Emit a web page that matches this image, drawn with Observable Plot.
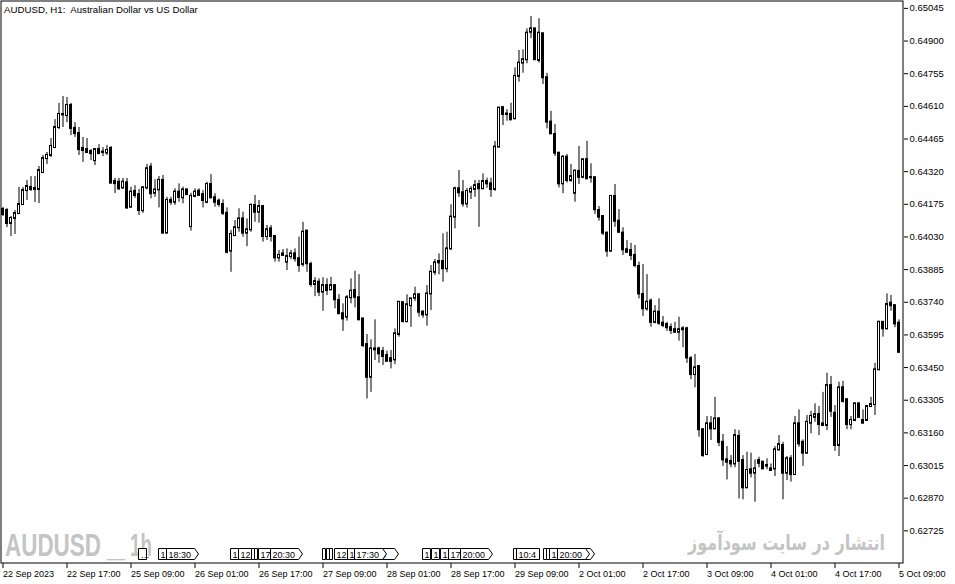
<!DOCTYPE html>
<html><head><meta charset="utf-8">
<script src="https://cdn.jsdelivr.net/npm/d3@7"></script>
<script src="https://cdn.jsdelivr.net/npm/@observablehq/plot@0.6"></script>
<style>
body{margin:0;background:#fff}
#wrap{position:relative;width:955px;height:584px;overflow:hidden}
</style>
</head><body><div id="wrap"></div>
<script>
const titleText = "AUDUSD, H1:  Australian Dollar vs US Dollar";
const open = [
0.64152,0.64147,0.64090,0.64112,0.64134,0.64174,0.64236,0.64250,0.64245,0.64241,0.64316,0.64378,0.64392,0.64427,0.64516,
0.64574,0.64569,0.64614,0.64512,0.64489,0.64423,0.64418,0.64409,0.64369,0.64418,0.64405,0.64403,0.64423,0.64276,0.64273,
0.64248,0.64270,0.64162,0.64232,0.64218,0.64147,0.64248,0.64340,0.64224,0.64239,0.64281,0.64047,0.64192,0.64184,0.64229,
0.64204,0.64239,0.64076,0.64210,0.64233,0.64218,0.64184,0.64263,0.64204,0.64189,0.64174,0.64135,0.63967,0.64036,0.64071,
0.64110,0.64047,0.64062,0.64170,0.64140,0.64165,0.64032,0.64066,0.64032,0.63937,0.63948,0.63918,0.63943,0.63955,0.63933,
0.63908,0.64056,0.63908,0.63819,0.63829,0.63785,0.63814,0.63795,0.63814,0.63748,0.63689,0.63674,0.63760,0.63792,0.63760,
0.63666,0.63552,0.63407,0.63529,0.63533,0.63521,0.63503,0.63489,0.63484,0.63597,0.63738,0.63654,0.63725,0.63758,0.63773,
0.63696,0.63684,0.63777,0.63873,0.63921,0.63921,0.63889,0.63977,0.64118,0.64244,0.64226,0.64177,0.64229,0.64241,0.64262,
0.64244,0.64276,0.64266,0.64241,0.64429,0.64604,0.64574,0.64574,0.64555,0.64743,0.64802,0.64817,0.64939,0.64954,0.64814,
0.64932,0.64737,0.64540,0.64485,0.64402,0.64266,0.64384,0.64281,0.64224,0.64321,0.64295,0.64373,0.64294,0.64293,0.64147,
0.64121,0.64047,0.63967,0.64210,0.64100,0.64047,0.63973,0.63970,0.63948,0.63899,0.63774,0.63711,0.63745,0.63651,0.63696,
0.63647,0.63641,0.63627,0.63618,0.63607,0.63622,0.63622,0.63489,0.63419,0.63455,0.63174,0.63064,0.63200,0.63178,0.63222,
0.63118,0.63040,0.63033,0.63022,0.63144,0.63037,0.62916,0.62996,0.62981,0.63037,0.63030,0.63015,0.63000,0.63000,0.63085,
0.63104,0.62981,0.63045,0.62975,0.63200,0.63118,0.63070,0.63203,0.63229,0.63241,0.63200,0.63193,0.63370,0.63247,0.63104,
0.63360,0.63307,0.63197,0.63215,0.63289,0.63215,0.63215,0.63277,0.63286,0.63440,0.63651,0.63622,0.63736,0.63725,0.63647];
const high = [
0.64161,0.64156,0.64121,0.64147,0.64250,0.64250,0.64281,0.64298,0.64298,0.64343,0.64392,0.64405,0.64467,0.64551,0.64623,
0.64654,0.64649,0.64623,0.64538,0.64516,0.64472,0.64467,0.64418,0.64423,0.64440,0.64427,0.64436,0.64432,0.64290,0.64290,
0.64290,0.64290,0.64251,0.64258,0.64241,0.64254,0.64352,0.64357,0.64284,0.64298,0.64303,0.64206,0.64206,0.64244,0.64266,
0.64251,0.64241,0.64224,0.64244,0.64244,0.64236,0.64273,0.64307,0.64222,0.64199,0.64195,0.64159,0.64059,0.64103,0.64155,
0.64140,0.64110,0.64177,0.64214,0.64192,0.64170,0.64081,0.64081,0.64032,0.63970,0.63974,0.63977,0.63970,0.63977,0.64029,
0.64095,0.64059,0.63918,0.63849,0.63844,0.63849,0.63844,0.63851,0.63814,0.63774,0.63733,0.63770,0.63844,0.63878,0.63863,
0.63666,0.63597,0.63573,0.63662,0.63540,0.63540,0.63523,0.63526,0.63622,0.63740,0.63738,0.63773,0.63755,0.63807,0.63777,
0.63703,0.63814,0.63903,0.63930,0.63955,0.64044,0.64051,0.64173,0.64251,0.64325,0.64281,0.64246,0.64254,0.64281,0.64281,
0.64310,0.64291,0.64291,0.64454,0.64606,0.64609,0.64595,0.64624,0.64781,0.64858,0.64861,0.64954,0.65009,0.64954,0.64999,
0.64935,0.64757,0.64588,0.64529,0.64402,0.64392,0.64396,0.64352,0.64328,0.64432,0.64373,0.64455,0.64355,0.64295,0.64165,
0.64125,0.64051,0.64214,0.64263,0.64151,0.64071,0.64014,0.64002,0.63992,0.63918,0.63908,0.63863,0.63755,0.63725,0.63755,
0.63677,0.63651,0.63644,0.63651,0.63674,0.63632,0.63629,0.63499,0.63508,0.63459,0.63178,0.63233,0.63233,0.63318,0.63227,
0.63153,0.63099,0.63059,0.63174,0.63170,0.63059,0.63074,0.63070,0.63040,0.63052,0.63030,0.63045,0.63022,0.63099,0.63148,
0.63118,0.63055,0.63059,0.63233,0.63262,0.63129,0.63237,0.63256,0.63289,0.63277,0.63340,0.63425,0.63410,0.63281,0.63385,
0.63389,0.63311,0.63233,0.63292,0.63289,0.63262,0.63281,0.63318,0.63469,0.63656,0.63651,0.63777,0.63770,0.63725,0.63662];
const low = [
0.64121,0.64072,0.64032,0.64041,0.64130,0.64170,0.64192,0.64232,0.64183,0.64178,0.64312,0.64352,0.64383,0.64423,0.64507,
0.64516,0.64538,0.64480,0.64472,0.64392,0.64361,0.64400,0.64369,0.64347,0.64396,0.64387,0.64392,0.64267,0.64223,0.64236,
0.64241,0.64152,0.64159,0.64201,0.64125,0.64135,0.64239,0.64199,0.64206,0.64159,0.64044,0.64044,0.64170,0.64170,0.64184,
0.64177,0.64218,0.64056,0.64204,0.64210,0.64159,0.64177,0.64199,0.64162,0.64162,0.64125,0.63955,0.63873,0.64032,0.64051,
0.64029,0.63987,0.64051,0.64095,0.64091,0.64007,0.64014,0.64007,0.63918,0.63918,0.63943,0.63881,0.63929,0.63918,0.63873,
0.63896,0.63873,0.63807,0.63765,0.63765,0.63700,0.63770,0.63792,0.63711,0.63686,0.63611,0.63656,0.63733,0.63715,0.63659,
0.63538,0.63311,0.63340,0.63481,0.63469,0.63459,0.63478,0.63444,0.63463,0.63585,0.63649,0.63649,0.63629,0.63743,0.63674,
0.63669,0.63634,0.63703,0.63859,0.63862,0.63829,0.63871,0.63970,0.64066,0.64206,0.64162,0.64158,0.64196,0.64206,0.64073,
0.64241,0.64246,0.64206,0.64232,0.64429,0.64525,0.64544,0.64550,0.64550,0.64717,0.64757,0.64799,0.64910,0.64817,0.64802,
0.64707,0.64510,0.64485,0.64387,0.64248,0.64222,0.64269,0.64273,0.64184,0.64263,0.64288,0.64288,0.64269,0.64130,0.64100,
0.64036,0.63940,0.63962,0.64073,0.64047,0.63948,0.63958,0.63925,0.63893,0.63755,0.63677,0.63700,0.63629,0.63644,0.63637,
0.63627,0.63611,0.63597,0.63602,0.63567,0.63538,0.63469,0.63396,0.63360,0.63141,0.63052,0.63059,0.63126,0.63174,0.63099,
0.63011,0.62951,0.63005,0.63005,0.62867,0.62863,0.62916,0.62960,0.62852,0.63005,0.63000,0.62996,0.62990,0.62966,0.63078,
0.62863,0.62948,0.62941,0.62971,0.63096,0.63011,0.63064,0.63156,0.63207,0.63148,0.63188,0.63170,0.63229,0.63078,0.63055,
0.63292,0.63174,0.63174,0.63212,0.63229,0.63203,0.63212,0.63274,0.63237,0.63437,0.63585,0.63618,0.63700,0.63627,0.63514];
const close = [
0.64130,0.64090,0.64112,0.64134,0.64174,0.64236,0.64254,0.64241,0.64241,0.64325,0.64378,0.64392,0.64432,0.64516,0.64574,
0.64572,0.64614,0.64512,0.64489,0.64418,0.64414,0.64405,0.64400,0.64418,0.64400,0.64407,0.64414,0.64269,0.64267,0.64244,
0.64273,0.64159,0.64229,0.64214,0.64147,0.64248,0.64333,0.64222,0.64239,0.64281,0.64047,0.64192,0.64184,0.64229,0.64206,
0.64239,0.64218,0.64210,0.64229,0.64214,0.64192,0.64263,0.64204,0.64184,0.64174,0.64135,0.63962,0.64041,0.64071,0.64110,
0.64047,0.64062,0.64170,0.64140,0.64165,0.64032,0.64062,0.64032,0.63937,0.63948,0.63955,0.63943,0.63955,0.63933,0.63903,
0.64051,0.63911,0.63819,0.63832,0.63785,0.63814,0.63792,0.63814,0.63751,0.63689,0.63666,0.63760,0.63789,0.63762,0.63662,
0.63548,0.63407,0.63533,0.63533,0.63511,0.63499,0.63478,0.63478,0.63600,0.63740,0.63654,0.63729,0.63755,0.63773,0.63696,
0.63684,0.63777,0.63873,0.63915,0.63915,0.63889,0.63977,0.64118,0.64244,0.64226,0.64177,0.64232,0.64241,0.64258,0.64244,
0.64276,0.64266,0.64241,0.64429,0.64602,0.64574,0.64576,0.64550,0.64743,0.64802,0.64817,0.64935,0.64954,0.64817,0.64935,
0.64737,0.64540,0.64488,0.64402,0.64266,0.64384,0.64281,0.64298,0.64322,0.64295,0.64373,0.64288,0.64293,0.64151,0.64118,
0.64047,0.63967,0.64210,0.64100,0.64051,0.63973,0.63962,0.63948,0.63903,0.63777,0.63711,0.63740,0.63651,0.63696,0.63647,
0.63637,0.63627,0.63615,0.63607,0.63618,0.63618,0.63493,0.63419,0.63449,0.63174,0.63059,0.63200,0.63178,0.63222,0.63118,
0.63040,0.63030,0.63022,0.63148,0.63034,0.62916,0.62993,0.62981,0.63000,0.63025,0.63000,0.63012,0.62993,0.63085,0.63108,
0.62981,0.63045,0.62975,0.63200,0.63111,0.63070,0.63207,0.63233,0.63241,0.63197,0.63193,0.63370,0.63256,0.63104,0.63360,
0.63300,0.63197,0.63215,0.63289,0.63229,0.63203,0.63277,0.63286,0.63440,0.63651,0.63622,0.63730,0.63725,0.63644,0.63518];

const timeTickIndex = [0,16,32,48,64,80,96,112,128,144,160,176,192,208,224];
const timeLabels = ["22 Sep 2023","22 Sep 17:00","25 Sep 09:00","26 Sep 01:00","26 Sep 17:00","27 Sep 09:00","28 Sep 01:00","28 Sep 17:00","29 Sep 09:00","2 Oct 01:00","2 Oct 17:00","3 Oct 09:00","4 Oct 01:00","4 Oct 17:00","5 Oct 09:00"];
const priceTicks = [0.65045,0.64900,0.64755,0.64610,0.64465,0.64320,0.64175,0.64030,0.63885,0.63740,0.63595,0.63450,0.63305,0.63160,0.63015,0.62870,0.62725];

// calendar event flags (bar index, label, flag kind: "a" = arrow-ended box)
const eventIndex = [33.9,38.9,40.9,56.9,58.9,62.1,62.9,63.9,66.9,79.9,80.9,81.6,82.9,86.1,90.9,87.9,104.9,107.1,109.4,111.4,114.4,127.6,128.4,135.1,135.9,136.6,139.9,138.6];
const eventLabel = ["…","1","18:30","1","12","","","17","20:30","","","","12","1","   00","17:30","1","1","1","17","20:00","","10:4","","","1","","20:00"];
const eventKind  = ["b","b","a","b","b","b","b","b","a","b","b","b","b","b","a","a","b","b","b","b","a","b","b","b","b","b","a","a"];

const watermark = "AUDUSD _ 1h";
const siteText = "انتشار در سایت سودآموز";

const candles = open.map((o, i) => ({i, o, h: high[i], l: low[i], c: close[i]}));
const up = candles.filter(d => d.c > d.o);
const down = candles.filter(d => d.c <= d.o);
const labelOf = new Map(timeTickIndex.map((t, k) => [t, timeLabels[k]]));

const chart = Plot.plot({
  width: 955, height: 584,
  marginLeft: 0, marginRight: 52, marginTop: 0, marginBottom: 21,
  x: {type: "linear", domain: [-0.625, 225.125]},
  y: {domain: [0.62580, 0.65080]},
  style: {fontFamily: "Liberation Sans, Arial, sans-serif", fontSize: "9px", color: "black", background: "white"},
  marks: [
    Plot.ruleX(candles, {x: "i", y1: "l", y2: "h", stroke: "black", strokeWidth: 1}),
    Plot.rect(down, {x1: d => d.i - 0.25, x2: d => d.i + 0.25, y1: "o", y2: "c", fill: "black", stroke: "black", strokeWidth: 1, insetTop: -0.5, insetBottom: -0.5}),
    Plot.rect(up, {x1: d => d.i - 0.25, x2: d => d.i + 0.25, y1: "o", y2: "c", fill: "white", stroke: "black", strokeWidth: 1, insetTop: -0.5, insetBottom: -0.5}),
    Plot.frame({stroke: "black", strokeWidth: 1, inset: 0.5}),
    Plot.axisY(priceTicks, {anchor: "right", tickSize: 4, tickPadding: 2, tickFormat: d => d.toFixed(5), label: null, fontSize: 9.5}),
    Plot.axisX(timeTickIndex, {anchor: "bottom", tickSize: 5, tickPadding: 2, tickFormat: d => labelOf.get(d), textAnchor: "start", dx: 0, label: null, fontSize: 9})
  ]
});
document.getElementById("wrap").appendChild(chart);

const svg = d3.select(chart);
const xs = chart.scale("x");
const X = v => xs.apply(v);

const extra = svg.append("g").attr("text-anchor", "start");

extra.append("text").attr("x", 4).attr("y", 12.5)
  .attr("font-family", "Liberation Sans, Arial, sans-serif").attr("font-size", 9.7).attr("fill", "black")
  .attr("xml:space", "preserve").style("white-space", "pre").text(titleText);

// watermark texts
const wm = extra.append("g").attr("fill", "#c4c4c4").attr("font-family", "Liberation Sans, Arial, sans-serif").attr("font-weight", "bold");
wm.append("text").attr("x", 5).attr("y", 556).attr("font-size", 32).attr("textLength", 96).attr("lengthAdjust", "spacingAndGlyphs").text(watermark.slice(0, 6));
wm.append("text").attr("x", 107).attr("y", 556).attr("font-size", 32).attr("textLength", 18).attr("lengthAdjust", "spacingAndGlyphs").text("_");
wm.append("text").attr("x", 130).attr("y", 556).attr("font-size", 32).attr("textLength", 22).attr("lengthAdjust", "spacingAndGlyphs").text(watermark.slice(-2));
extra.append("text").attr("x", 688).attr("y", 550).attr("font-family", "DejaVu Sans, sans-serif").attr("font-weight", "bold")
  .attr("font-size", 21).attr("fill", "#c4c4c4").attr("textLength", 197).attr("lengthAdjust", "spacingAndGlyphs").text(siteText);

// event flags
const ev = extra.append("g").attr("font-family", "Liberation Sans, Arial, sans-serif").attr("font-size", 9);
eventIndex.forEach((idx, k) => {
  const lab = eventLabel[k];
  const arrow = eventKind[k] === "a";
  const x0 = Math.round(X(idx)) + 0.5;
  const w = arrow ? 28 : (lab.length ? 3 + 5 * lab.length : 3);
  const top = 548.5, bot = 559.5;
  const d = arrow
    ? `M${x0},${top}H${x0 + w}L${x0 + w + 4},${(top + bot) / 2}L${x0 + w},${bot}H${x0}Z`
    : `M${x0},${top}H${x0 + w}V${bot}H${x0}Z`;
  ev.append("path").attr("d", d).attr("fill", "white").attr("stroke", "black").attr("stroke-width", 1);
  if (lab.trim()) ev.append("text").attr("x", x0 + 2).attr("y", 557.5).attr("fill", "black")
    .attr("xml:space", "preserve").style("white-space", "pre").text(lab);
});
</script>
</body></html>
